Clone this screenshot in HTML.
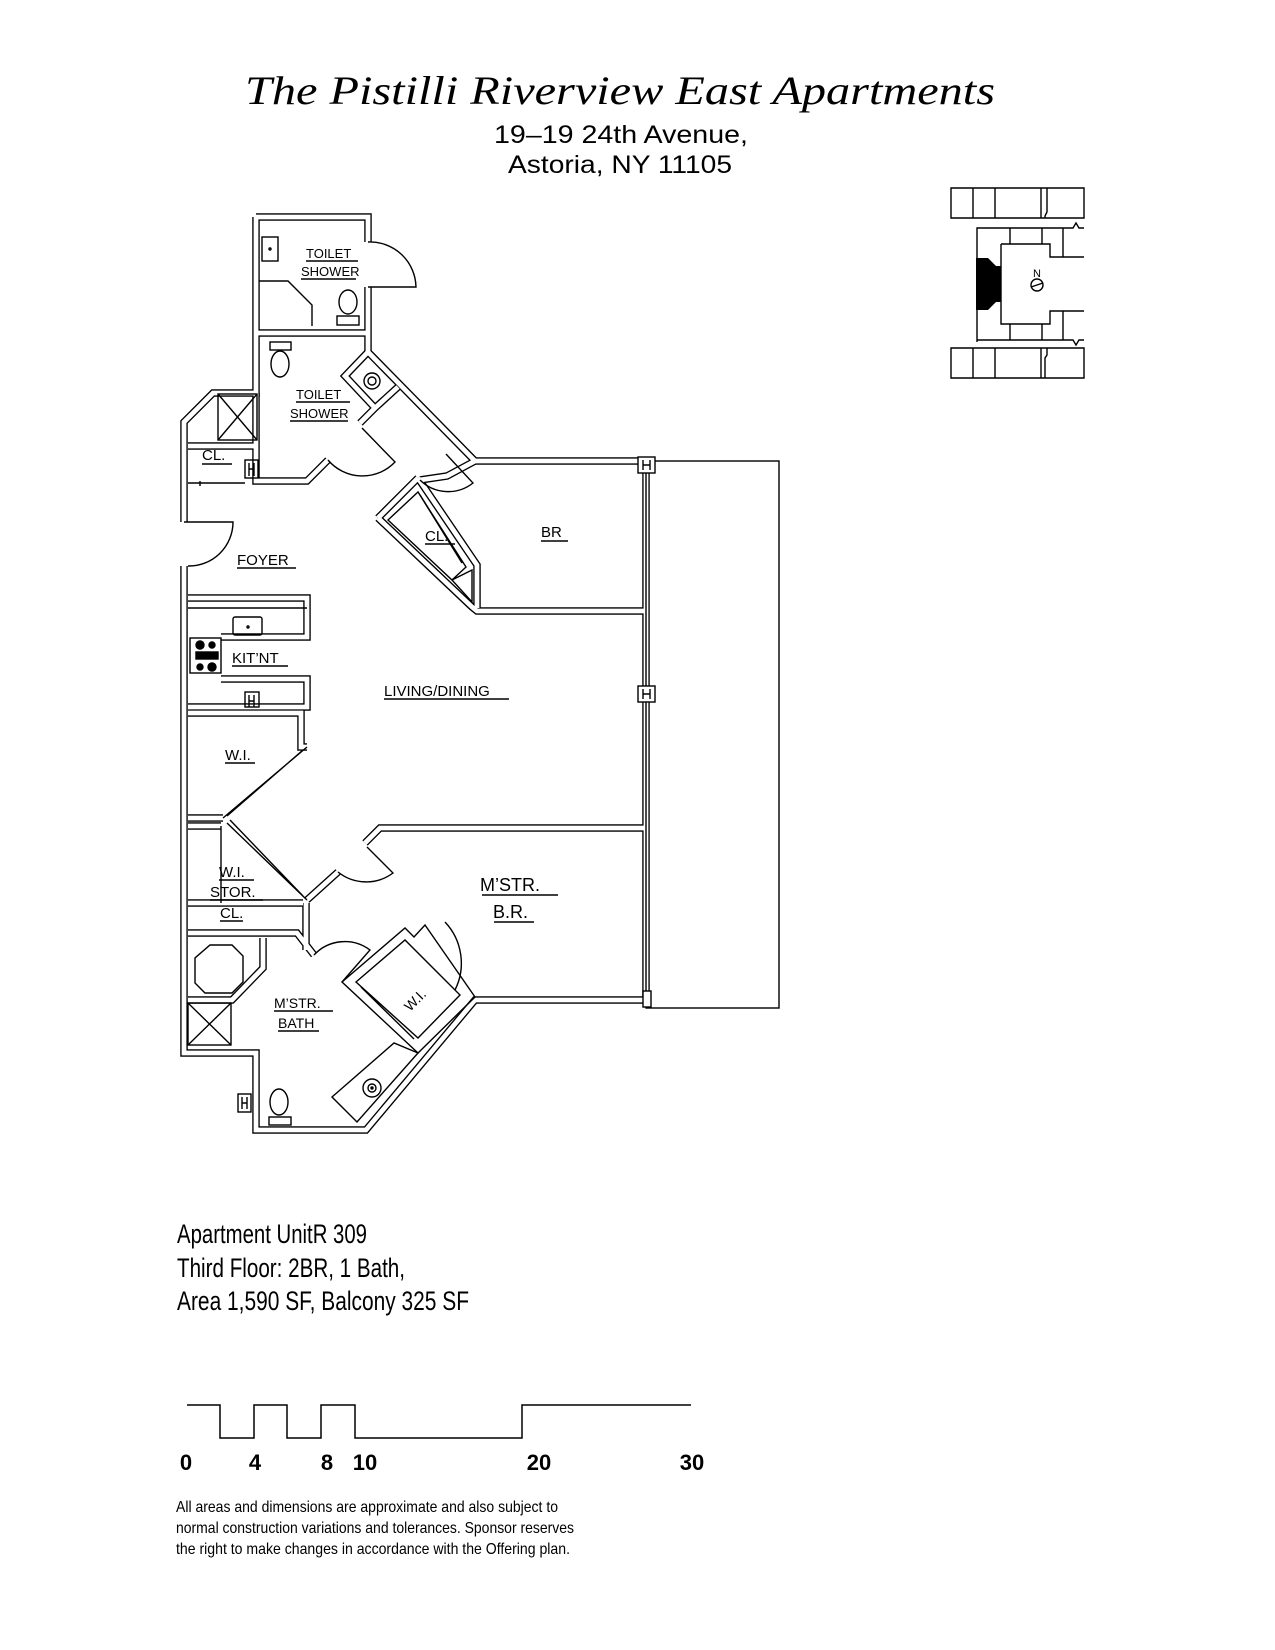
<!DOCTYPE html>
<html><head><meta charset="utf-8"><style>
html,body{margin:0;padding:0;background:#fff}
svg{display:block}
text{font-family:"Liberation Sans Narrow","Liberation Sans",sans-serif;fill:#000}
.lbl{font-size:15px}
.w{fill:none;stroke:#000;stroke-width:7.5}
.wi{fill:none;stroke:#fff;stroke-width:4.8}
.t{fill:none;stroke:#000;stroke-width:1.4}
</style></head><body>
<svg width="1275" height="1650" viewBox="0 0 1275 1650" xmlns="http://www.w3.org/2000/svg">
<rect width="1275" height="1650" fill="#fff"/>
<text x="620" y="104" text-anchor="middle" font-style="italic" font-size="40" textLength="750" lengthAdjust="spacingAndGlyphs" style="font-family:'Liberation Serif',serif;font-style:italic">The  Pistilli  Riverview  East  Apartments</text>
<text x="621" y="143" text-anchor="middle" font-size="25" textLength="254" lengthAdjust="spacingAndGlyphs" style="font-family:'Liberation Sans',sans-serif">19–19 24th Avenue,</text>
<text x="620" y="173" text-anchor="middle" font-size="25" textLength="224" lengthAdjust="spacingAndGlyphs" style="font-family:'Liberation Sans',sans-serif">Astoria, NY 11105</text>

<g class="t" stroke-width="1.3">
<path d="M951,188 H1084 V218 H951 Z M973,188 V218 M995,188 V218 M1041,188 V218 M1047,188 V212 L1045,216 V218"/>
<path d="M977,342 V228 H1073 L1076,223 L1079,228 H1084"/>
<path d="M1001,244 H1050 V257 H1084 M1001,244 V324 H1050 V311 H1084 M1010,228 V244 M1042,228 V244 M1063,228 V257 M1010,324 V340 M1042,324 V340 M1063,311 V340"/>
<path d="M977,340 H1073 L1076,345 L1079,340 H1084"/>
<path d="M951,348 H1084 V378 H951 Z M973,348 V378 M995,348 V378 M1041,348 V378 M1047,348 V355 L1045,358 V378"/>
<circle cx="1037" cy="285" r="6"/><path d="M1031,287 L1043,283"/>
</g>
<path d="M976,258 H988 L996,266 H1001 V302 H996 L988,310 H976 Z" fill="#000"/>
<text x="1037" y="277" text-anchor="middle" font-size="11">N</text>

<rect x="646" y="461" width="133" height="547" class="t"/>

<g>
<path class="w" d="M256,217 L368,217 L368,242 M368,287 L368,352 L475,461 L646,461 L646,1000 L475,1000 L366,1130 L256,1130 L256,1053 L184,1053 L184,566 M184,522 L184,422 L213,393 L256,393 L256,217"/>
<path class="w" d="M256,333 L368,333 M256,393 L256,481 L307,481 L328,460 M188,446 L256,446"/>
<path class="w" d="M368,352 L345,376 L375,408 L398,387 M375,408 L360,423 M420,480 L447,476 L475,461 M378,518 L418,478 M378,518 L472,607 L477,611 L646,611 M418,478 L477,565 L477,608"/>
<path class="w" d="M188,598 L307,598 L307,637 L221,637 M221,679 L307,679 L307,707 L188,707 M188,713 L301,713 L301,747 L307,747 M223,818 L188,818 M188,826 L221,826 M188,903 L303,903 M306,903 L306,950 M188,933 L297,933 L314,955 M307,900 L338,872 M365,843 L380,828 L646,828 M263,938 L263,968 L232,1000 L188,1000"/>
</g>
<g>
<path class="wi" d="M256,217 L368,217 L368,242 M368,287 L368,352 L475,461 L646,461 L646,1000 L475,1000 L366,1130 L256,1130 L256,1053 L184,1053 L184,566 M184,522 L184,422 L213,393 L256,393 L256,217"/>
<path class="wi" d="M256,333 L368,333 M256,393 L256,481 L307,481 L328,460 M188,446 L256,446"/>
<path class="wi" d="M368,352 L345,376 L375,408 L398,387 M375,408 L360,423 M420,480 L447,476 L475,461 M378,518 L418,478 M378,518 L472,607 L477,611 L646,611 M418,478 L477,565 L477,608"/>
<path class="wi" d="M188,598 L307,598 L307,637 L221,637 M221,679 L307,679 L307,707 L188,707 M188,713 L301,713 L301,747 L307,747 M223,818 L188,818 M188,826 L221,826 M188,903 L303,903 M306,903 L306,950 M188,933 L297,933 L314,955 M307,900 L338,872 M365,843 L380,828 L646,828 M263,938 L263,968 L232,1000 L188,1000"/>
</g>

<g class="t">
<path d="M368,242 A46,46 0 0 1 416,287 L368,287"/>
<path d="M184,522 L233,522 A44,44 0 0 1 188,566"/>
<path d="M328,460 A45,45 0 0 0 395,462 L362,428"/>
<path d="M420,480 A40,40 0 0 0 473,483 L446,454"/>
<path d="M338,872 A45,45 0 0 0 393,873 L367,847"/>
<path d="M314,955 A42,42 0 0 1 370,950 L342,982"/>
<path d="M445,922 A60,60 0 0 1 455,990"/>
<rect x="262" y="237" width="16" height="24"/><circle cx="270" cy="249" r="1"/>
<path d="M259,281 L288,281 L312,305 L312,326"/>
<ellipse cx="348" cy="302" rx="9" ry="12"/><rect x="337" y="316" width="22" height="9"/>
<rect x="270" y="342" width="21" height="8"/><ellipse cx="280" cy="364" rx="9" ry="13"/>
<circle cx="372" cy="381" r="8"/><circle cx="372" cy="381" r="4"/>
<rect x="218" y="394" width="39" height="46"/><path d="M218,394 L257,440 M257,394 L218,440"/>
<rect x="245" y="460" width="13" height="18"/><path d="M249,463 V476 M254,463 V476 M249,469 H254"/>
<path d="M188,483 L245,483 M200,481 L200,486"/>
<path d="M388,520 L418,492 L466,567 L452,580 Z M452,580 L472,602 L472,570 Z"/>
<path d="M420,495 L462,563"/>
<path d="M188,608 H307"/>
<rect x="233" y="617" width="29" height="18" rx="2"/><circle cx="248" cy="627" r="1"/>
<rect x="190" y="638" width="31" height="35"/>
<circle cx="200" cy="645" r="4" fill="#000"/><circle cx="212" cy="645" r="3" fill="#000"/>
<circle cx="200" cy="667" r="3" fill="#000"/><circle cx="212" cy="667" r="4" fill="#000"/>
<rect x="196" y="652" width="22" height="7" fill="#000"/>
<rect x="245" y="692" width="14" height="15"/><path d="M249,695 V707 M254,695 V707 M249,701 H254"/>
<path d="M307,747 L223,818 M303,750 L227,816"/>
<path d="M227,823 L307,900 M230,820 L303,896"/>
<path d="M221,826 L221,903"/>
<path d="M210,945 H232 L243,956 V982 L232,993 H205 L195,983 V958 Z"/>
<rect x="188" y="1003" width="43" height="42"/><path d="M188,1003 L231,1045 M231,1003 L188,1045"/>
<ellipse cx="279" cy="1102" rx="9" ry="13"/><rect x="269" y="1117" width="22" height="8"/>
<rect x="238" y="1094" width="13" height="18"/><path d="M242,1097 V1109 M247,1097 V1109 M242,1103 H247"/>
<path d="M342,982 L405,928 L414,937 L425,925 L475,997 L418,1053 Z M356,982 L405,940 L460,995 L418,1038 Z M361,987 L414,1039"/>
<path d="M332,1097 L394,1043 L418,1053 L357,1122 Z"/>
<circle cx="372" cy="1088" r="9"/><circle cx="372" cy="1088" r="4"/><circle cx="372" cy="1088" r="1" fill="#000"/>
<rect x="638" y="457" width="17" height="16" fill="#fff"/><path d="M643,460 V470 M650,460 V470 M643,465 H650"/>
<rect x="638" y="686" width="17" height="16" fill="#fff"/><path d="M643,689 V699 M650,689 V699 M643,694 H650"/>
<rect x="643" y="991" width="8" height="16" fill="#fff"/>
<path d="M646,473 V686 M646,702 V991"/>
</g>

<g class="lbl">
<text x="306" y="258" font-size="13">TOILET</text><path d="M306,261 H358" class="t"/>
<text x="301" y="276" font-size="13">SHOWER</text><path d="M301,279 H356" class="t"/>
<text x="296" y="399" font-size="13">TOILET</text><path d="M296,402 H350" class="t"/>
<text x="290" y="418" font-size="13">SHOWER</text><path d="M290,421 H348" class="t"/>
<text x="202" y="460">CL.</text><path d="M202,464 H232" class="t"/>
<text x="237" y="565">FOYER</text><path d="M237,568 H296" class="t"/>
<text x="425" y="541">CL.</text><path d="M425,544 H455" class="t"/>
<text x="541" y="537">BR</text><path d="M541,541 H568" class="t"/>
<text x="232" y="663">KIT’NT</text><path d="M232,666 H288" class="t"/>
<text x="384" y="696">LIVING/DINING</text><path d="M384,699 H509" class="t"/>
<text x="225" y="760">W.I.</text><path d="M225,763 H255" class="t"/>
<text x="219" y="877">W.I.</text><path d="M219,880 H254" class="t"/>
<text x="210" y="897">STOR.</text><path d="M210,900 H263" class="t"/>
<text x="220" y="918">CL.</text><path d="M220,921 H243" class="t"/>
<text x="480" y="891" font-size="18">M’STR.</text><path d="M482,895 H558" class="t"/>
<text x="493" y="918" font-size="18">B.R.</text><path d="M494,922 H534" class="t"/>
<text x="274" y="1008" font-size="14">M’STR.</text><path d="M274,1011 H333" class="t"/>
<text x="278" y="1028" font-size="14">BATH</text><path d="M278,1031 H319" class="t"/>
<text x="0" y="0" font-size="14" transform="translate(410,1012) rotate(-45)">W.I.</text>
</g>

<text x="177" y="1243" font-size="27" textLength="190" lengthAdjust="spacingAndGlyphs">Apartment UnitR 309</text>
<text x="177" y="1277" font-size="27" textLength="228" lengthAdjust="spacingAndGlyphs">Third Floor: 2BR, 1 Bath,</text>
<text x="177" y="1310" font-size="27" textLength="292" lengthAdjust="spacingAndGlyphs">Area 1,590 SF, Balcony 325 SF</text>

<path d="M187,1405 H220 V1438 H254 V1405 H287 V1438 H321 V1405 H355 V1438 H522 V1405 H691" fill="none" stroke="#000" stroke-width="1.5"/>
<g font-size="22" font-weight="bold">
<text x="186" y="1470" text-anchor="middle" style="font-family:'Liberation Sans',sans-serif">0</text>
<text x="255" y="1470" text-anchor="middle" style="font-family:'Liberation Sans',sans-serif">4</text>
<text x="327" y="1470" text-anchor="middle" style="font-family:'Liberation Sans',sans-serif">8</text>
<text x="365" y="1470" text-anchor="middle" style="font-family:'Liberation Sans',sans-serif">10</text>
<text x="539" y="1470" text-anchor="middle" style="font-family:'Liberation Sans',sans-serif">20</text>
<text x="692" y="1470" text-anchor="middle" style="font-family:'Liberation Sans',sans-serif">30</text>
</g>
<text x="176" y="1512" font-size="16" textLength="382" lengthAdjust="spacingAndGlyphs">All areas and dimensions are approximate and also subject to</text>
<text x="176" y="1533" font-size="16" textLength="398" lengthAdjust="spacingAndGlyphs">normal construction variations and tolerances. Sponsor reserves</text>
<text x="176" y="1554" font-size="16" textLength="394" lengthAdjust="spacingAndGlyphs">the right to make changes in accordance with the Offering plan.</text>
</svg>
</body></html>
